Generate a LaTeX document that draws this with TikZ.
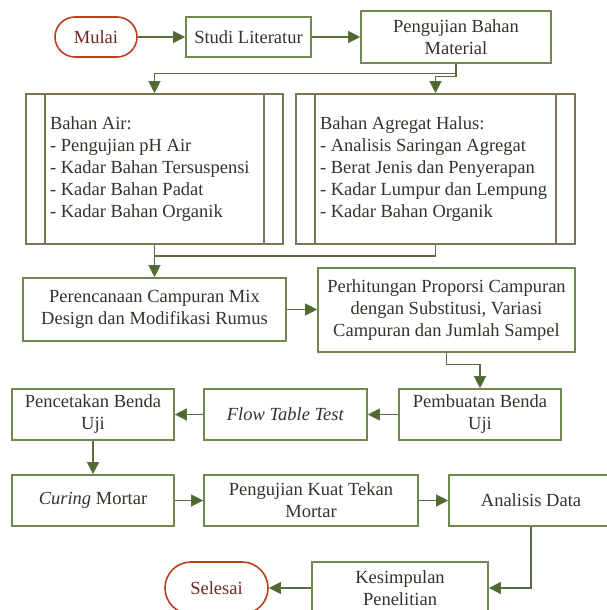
\documentclass[tikz,border=0pt]{standalone}
\usepackage{fontspec}
\setmainfont{Liberation Serif}
\usepackage{tikz}
\usetikzlibrary{arrows.meta, positioning, calc}

\definecolor{boxgreen}{RGB}{110,136,80}
\definecolor{linegreen}{RGB}{88,110,62}
\definecolor{headgreen}{RGB}{78,104,46}
\definecolor{boxbrown}{RGB}{125,116,88}
\definecolor{endred}{RGB}{184,64,30}
\definecolor{endtext}{RGB}{110,40,28}
\definecolor{textgray}{RGB}{50,52,44}

\hyphenpenalty=10000

\begin{document}
\begin{tikzpicture}[x=1pt, y=-1pt,
    >={Triangle[length=12pt, width=12pt, fill=headgreen]},
    every node/.style={font=\fontsize{18.5}{22}\selectfont, text=textgray, inner sep=0pt},
    terminal/.style={draw=endred, line width=1.6pt, rounded corners=20pt, text=endtext},
    process/.style={draw=boxgreen, line width=1.6pt, align=center},
    subproc/.style={draw=boxbrown, line width=1.6pt, align=flush left, minimum height=150pt},
    flowline/.style={draw=linegreen, line width=1.2pt}]
    \useasboundingbox (0,0) rectangle (607,610);

    % Nodes
    \node[terminal, minimum width=82pt, minimum height=40pt] (mulai) at (96,37) {Mulai};
    \node[process, minimum width=125pt, minimum height=40pt] (studi) at (248.5,37) {Studi Literatur};
    \node[process, minimum width=190pt, minimum height=52pt] (uji) at (456,37) {Pengujian Bahan\\Material};
    \node[subproc, minimum width=257pt, text width=209pt] (air) at (154.5,169)
        {Bahan Air:\\- Pengujian pH Air\\- Kadar Bahan Tersuspensi\\- Kadar Bahan Padat\\- Kadar Bahan Organik};
    \node[subproc, minimum width=279pt, text width=231pt] (agregat) at (435.5,169)
        {Bahan Agregat Halus:\\- Analisis Saringan Agregat\\- Berat Jenis dan Penyerapan\\- Kadar Lumpur dan Lempung\\- Kadar Bahan Organik};
    \node[process, minimum width=263pt, minimum height=63pt] (rencana) at (154.5,309.5)
        {Perencanaan Campuran Mix\\Design dan Modifikasi Rumus};
    \node[process, minimum width=257pt, minimum height=84pt] (hitung) at (446.5,310)
        {Perhitungan Proporsi Campuran\\dengan Substitusi, Variasi\\Campuran dan Jumlah Sampel};
    \node[process, minimum width=162pt, minimum height=51pt] (buat) at (480,414.5) {Pembuatan Benda\\Uji};
    \node[process, minimum width=163pt, minimum height=51pt] (flow) at (285.5,414.5) {\textit{Flow Table Test}};
    \node[process, minimum width=162pt, minimum height=51pt] (cetak) at (93,414.5) {Pencetakan Benda\\Uji};
    \node[process, minimum width=162pt, minimum height=51pt] (curing) at (93,500.5) {\textit{Curing} Mortar};
    \node[process, minimum width=214pt, minimum height=51pt] (kuat) at (311,500.5) {Pengujian Kuat Tekan\\Mortar};
    \node[process, minimum width=164pt, minimum height=51pt] (analisis) at (531,500.5) {Analisis Data};
    \node[process, minimum width=176pt, minimum height=52pt] (simpul) at (400,588) {Kesimpulan\\Penelitian};
    \node[terminal, minimum width=103pt, minimum height=52pt, rounded corners=26pt] (selesai) at (216.5,588) {Selesai};

    % Side bars of the sub-process boxes
    \foreach \b in {air, agregat} {
        \draw[boxbrown, line width=1.6pt] ($(\b.north west)+(20,0)$) -- ($(\b.south west)+(20,0)$);
        \draw[boxbrown, line width=1.6pt] ($(\b.north east)+(-20,0)$) -- ($(\b.south east)+(-20,0)$);
    }

    % Edges
    \draw[flowline, ->] (mulai) -- (studi);
    \draw[flowline, ->] (studi) -- (uji);
    \draw[flowline, ->] (uji.south) -- ++(0,10) -| (air.north);
    \draw[flowline, ->] (uji.south) -- ++(0,13) -| (agregat.north);
    \coordinate (gabung) at (air.south |- 0,256);
    \draw[flowline] (agregat.south) |- (gabung);
    \draw[flowline, ->] (air.south) -- (rencana.north);
    \draw[flowline, ->] (rencana) -- (rencana -| hitung.west);
    \draw[flowline, ->] (hitung.south) -- ++(0,12) -| (buat.north);
    \draw[flowline, ->] (buat) -- (flow);
    \draw[flowline, ->] (flow) -- (cetak);
    \draw[flowline, ->] (cetak) -- (curing);
    \draw[flowline, ->] (curing) -- (kuat);
    \draw[flowline, ->] (kuat) -- (analisis);
    \draw[flowline, ->] (analisis.south) |- (simpul.east);
    \draw[flowline, ->] (simpul) -- (selesai);
\end{tikzpicture}
\end{document}
